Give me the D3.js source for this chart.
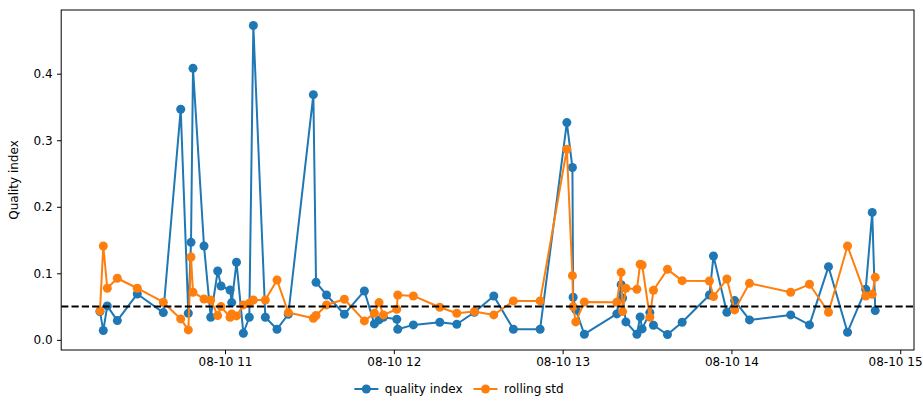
<!DOCTYPE html>
<html><head><meta charset="utf-8">
<script src="https://cdn.jsdelivr.net/npm/d3@7"></script>
<style>
body{margin:0;background:#fff}
svg{display:block}
text{font-family:"DejaVu Sans",sans-serif;fill:#000}
</style>
</head><body>
<svg id="chart" width="923" height="412"></svg>
<script>
const day = "2023-08-10";
const times = ["10:15:33","10:16:44","10:18:09","10:21:43","10:28:49","10:38:04","10:44:15","10:46:57","10:47:55","10:48:37",
"10:52:32","10:54:55","10:57:24","10:58:35","11:01:47","11:02:23","11:04:05","11:06:31","11:08:38","11:10:04",
"11:14:20","11:18:29","11:22:30","11:31:24","11:32:21","11:36:05","11:42:25","11:49:32","11:53:05","11:54:45",
"11:56:17","12:01:03","12:01:24","12:06:57","12:16:20","12:22:23","12:28:38","12:35:32","12:42:30","12:52:00",
"13:01:30","13:03:29","13:03:44","13:04:41","13:07:43","13:19:16","13:20:48","13:21:20","13:22:29","13:26:24",
"13:27:33","13:28:16","13:31:00","13:32:17","13:37:16","13:42:29","13:52:11","13:53:37","13:58:23","14:01:09",
"14:06:25","14:21:04","14:27:45","14:34:30","14:41:16","14:47:44","14:50:03","14:51:07"];
const qualityIndex = [0.0425,0.014,0.051,0.029,0.069,0.041,0.3465,0.040,0.1466,0.408,
0.141,0.034,0.1035,0.081,0.075,0.056,0.1166,0.010,0.034,0.4725,
0.034,0.016,0.0385,0.3685,0.0865,0.0675,0.0385,0.0735,0.024,0.030,
0.034,0.031,0.016,0.0225,0.0265,0.0235,0.0415,0.066,0.016,0.016,
0.3265,0.259,0.064,0.045,0.0085,0.039,0.083,0.063,0.027,0.0085,
0.0345,0.0165,0.041,0.022,0.008,0.0265,0.0675,0.126,0.0415,0.059,
0.030,0.0375,0.0225,0.110,0.0115,0.076,0.1915,0.044];
const rollingStd = [0.0435,0.141,0.0776,0.0926,0.0776,0.0566,0.0315,0.015,0.1245,0.0716,
0.0615,0.060,0.0365,0.050,0.034,0.039,0.036,0.0525,0.055,0.060,
0.060,0.090,0.041,0.0325,0.0367,0.0525,0.061,0.0285,0.040,0.056,
0.0375,0.046,0.0675,0.066,0.049,0.040,0.0425,0.0375,0.0585,0.0585,
0.2865,0.0965,0.050,0.027,0.057,0.0565,0.1015,0.0425,0.0776,0.076,
0.1137,0.1125,0.034,0.0745,0.106,0.089,0.0885,0.065,0.0915,0.045,
0.085,0.0716,0.0835,0.0415,0.141,0.066,0.0685,0.094];
const yTicks = [0.0,0.1,0.2,0.3,0.4];
const threshold = 0.05;
const seriesNames = ["quality index","rolling std"];
const colors = ["#1f77b4","#ff7f0e"];
const yLabel = "Quality index";

const parse = d3.utcParse("%Y-%m-%d %H:%M:%S");
const dates = times.map(t => parse(day + " " + t));
const series = [qualityIndex, rollingStd].map((vals, i) => ({
  name: seriesNames[i], color: colors[i],
  pts: vals.map((v, j) => ({t: dates[j], v}))
}));

const W = 923, H = 412;
const m = {left: 61.2, right: 9, top: 10, bottom: 62};
const pw = W - m.left - m.right, ph = H - m.top - m.bottom;
const fs = 12;
const R = 4.5, LW = 2;

const tExt = d3.extent(dates);
const tPad = (tExt[1] - tExt[0]) * 0.05;
const x = d3.scaleUtc().domain([new Date(+tExt[0] - tPad), new Date(+tExt[1] + tPad)]).range([0, pw]);
const allV = qualityIndex.concat(rollingStd);
const vMin = d3.min(allV), vMax = d3.max(allV), vPad = (vMax - vMin) * 0.05;
const y = d3.scaleLinear().domain([vMin - vPad, vMax + vPad]).range([ph, 0]);

const svg = d3.select("#chart");
const g = svg.append("g").attr("transform", `translate(${m.left},${m.top})`);

const clip = svg.append("defs").append("clipPath").attr("id","clip");
clip.append("rect").attr("width", pw).attr("height", ph);

const plot = g.append("g").attr("clip-path","url(#clip)");
const line = d3.line().x(d => x(d.t)).y(d => y(d.v));
series.forEach(s => {
  plot.append("path").datum(s.pts).attr("d", line)
    .attr("fill","none").attr("stroke", s.color).attr("stroke-width", LW)
    .attr("stroke-linejoin","round").attr("stroke-linecap","square");
  plot.selectAll(null).data(s.pts).enter().append("circle")
    .attr("cx", d => x(d.t)).attr("cy", d => y(d.v)).attr("r", R)
    .attr("fill", s.color);
});

plot.append("line").attr("x1", 0).attr("x2", pw)
  .attr("y1", y(threshold)).attr("y2", y(threshold))
  .attr("stroke","#000").attr("stroke-width", 2).attr("stroke-dasharray","7.2,3.1");

// axes
const xAxis = d3.axisBottom(x).ticks(d3.utcHour.every(1)).tickFormat(d3.utcFormat("%m-%d %H"))
  .tickSize(4.2).tickPadding(3.6);
const gx = g.append("g").attr("transform", `translate(0,${ph})`).call(xAxis);
const yAxis = d3.axisLeft(y).tickValues(yTicks).tickFormat(d3.format(".1f"))
  .tickSize(4.2).tickPadding(4.4);
const gy = g.append("g").call(yAxis);
[gx, gy].forEach(a => {
  a.select(".domain").remove();
  a.selectAll(".tick line").attr("stroke","#000").attr("stroke-width",1);
  a.selectAll(".tick text").attr("font-size", fs).attr("font-family","DejaVu Sans");
});
// keep the last x tick label inside the figure
gx.selectAll(".tick").each(function(d) {
  const t = d3.select(this).select("text");
  const w = t.node().getComputedTextLength();
  const right = m.left + x(d) + w / 2;
  if (right > W - 1) t.attr("dx", (W - 1 - right).toFixed(1));
});

g.append("rect").attr("width", pw).attr("height", ph)
  .attr("fill","none").attr("stroke","#000").attr("stroke-width",1);

svg.append("text").attr("transform", `translate(18,${m.top + ph/2}) rotate(-90)`)
  .attr("text-anchor","middle").attr("font-size", fs).text(yLabel);

// legend
const leg = svg.append("g");
const handleLen = 24, pad = 6.5, colSp = 11;
const tmp = leg.append("text").attr("font-size", fs);
const widths = seriesNames.map(n => { tmp.text(n); return tmp.node().getComputedTextLength(); });
tmp.remove();
const total = d3.sum(widths) + 2 * (handleLen + pad) + colSp;
let lx = 459 - total / 2;
const ly = 389;
series.forEach((s, i) => {
  leg.append("line").attr("x1", lx).attr("x2", lx + handleLen).attr("y1", ly).attr("y2", ly)
    .attr("stroke", s.color).attr("stroke-width", LW);
  leg.append("circle").attr("cx", lx + handleLen / 2).attr("cy", ly).attr("r", R).attr("fill", s.color);
  leg.append("text").attr("x", lx + handleLen + pad).attr("y", ly).attr("dy","0.36em")
    .attr("font-size", fs).text(s.name);
  lx += handleLen + pad + widths[i] + colSp;
});
</script>
</body></html>
